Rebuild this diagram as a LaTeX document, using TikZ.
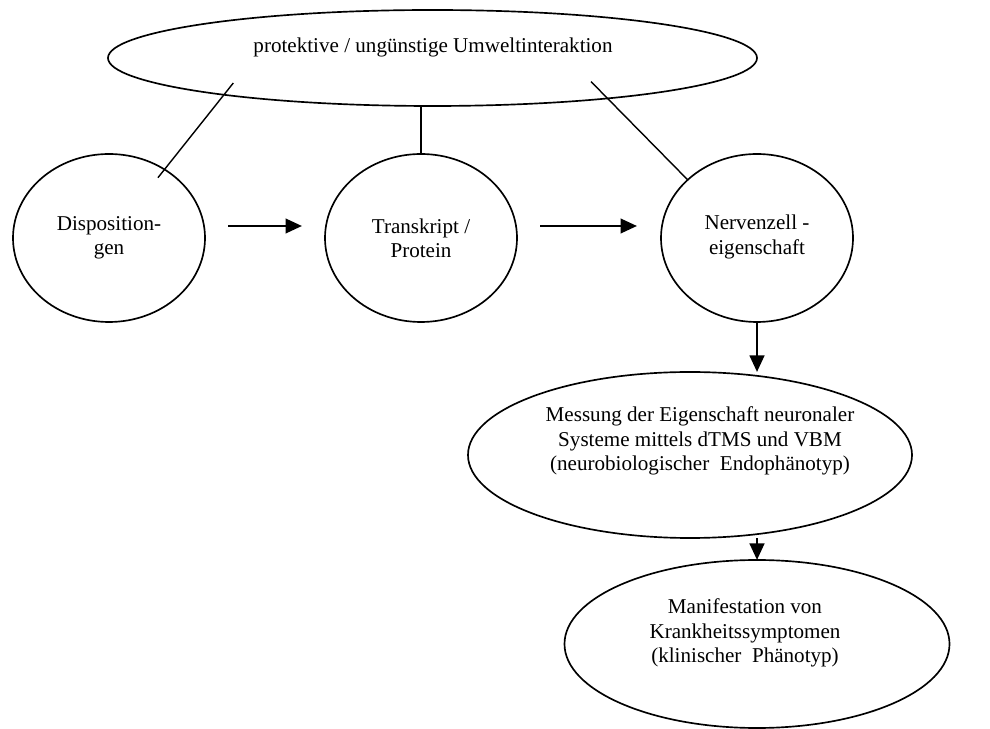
\documentclass[tikz,border=0pt]{standalone}
\usepackage{fontspec}
\setmainfont{Liberation Serif}
\usetikzlibrary{shapes.geometric,arrows.meta}

\begin{document}
\begin{tikzpicture}[x=0.2mm,y=-0.2mm,
    bubble/.style={draw,ellipse,line width=0.95pt,inner sep=0pt,outer sep=0pt},
    txt/.style={align=center,font=\fontsize{12pt}{13.8pt}\selectfont,inner sep=0pt},
    link/.style={line width=0.8pt},
    arr/.style={line width=1.5pt,-{Triangle[length=0.33cm,width=0.29cm]}}]
        % frame
        \useasboundingbox (0,0) rectangle (990,729);
        % ellipses
        \node[bubble,minimum width=12.98cm,minimum height=1.92cm] (umw) at (432.5,58) {};
        \foreach \n/\c in {disp/109,trans/421,nerv/757}
          \node[bubble,minimum width=3.84cm,minimum height=3.36cm] (\n) at (\c,238) {};
        \node[bubble,minimum width=8.88cm,minimum height=3.32cm] (mess) at (690,455) {};
        \node[bubble,minimum width=7.7cm,minimum height=3.36cm] (manif) at (757,644) {};
        % texts
        \node[txt] (umwT) at (433,47) {protektive / ungünstige Umweltinteraktion};
        \node[txt] (dispT) at (109,237.5) {Disposition-\\gen};
        \node[txt] (transT) at (421,238) {Transkript /\\Protein};
        \node[txt] (nervT) at (757,237) {Nervenzell -\\eigenschaft};
        \node[txt] (messT) at (700,441) {Messung der Eigenschaft neuronaler\\
          Systeme mittels dTMS und VBM\\(neurobiologischer~ Endophänotyp)};
        \node[txt] (manifT) at (745,633) {Manifestation von\\Krankheitssymptomen\\
          (klinischer~ Phänotyp)};
        % lines from the environment
        \draw[link,shorten <=-0.3cm,shorten >=-0.21cm] (umw.-170.4) -- (disp.51.1);
        \draw[link] (trans.north) -- (trans.north |- umw.south);
        \draw[link,shorten <=-0.47cm] (umw.-13.2) -- (nerv.140);
        % arrows
        \draw[arr,shorten <=0.46cm,shorten >=0.46cm]
          ([yshift=0.24cm]disp.east) -- ([yshift=0.24cm]trans.west);
        \draw[arr,shorten <=0.46cm,shorten >=0.48cm]
          ([yshift=0.24cm]trans.east) -- ([yshift=0.24cm]nerv.west);
        \draw[arr] (nerv.south) -- (nerv.south |- mess.north);
        \draw[arr] (manif.north |- mess.south) -- (manif.north);
\end{tikzpicture}
\end{document}
